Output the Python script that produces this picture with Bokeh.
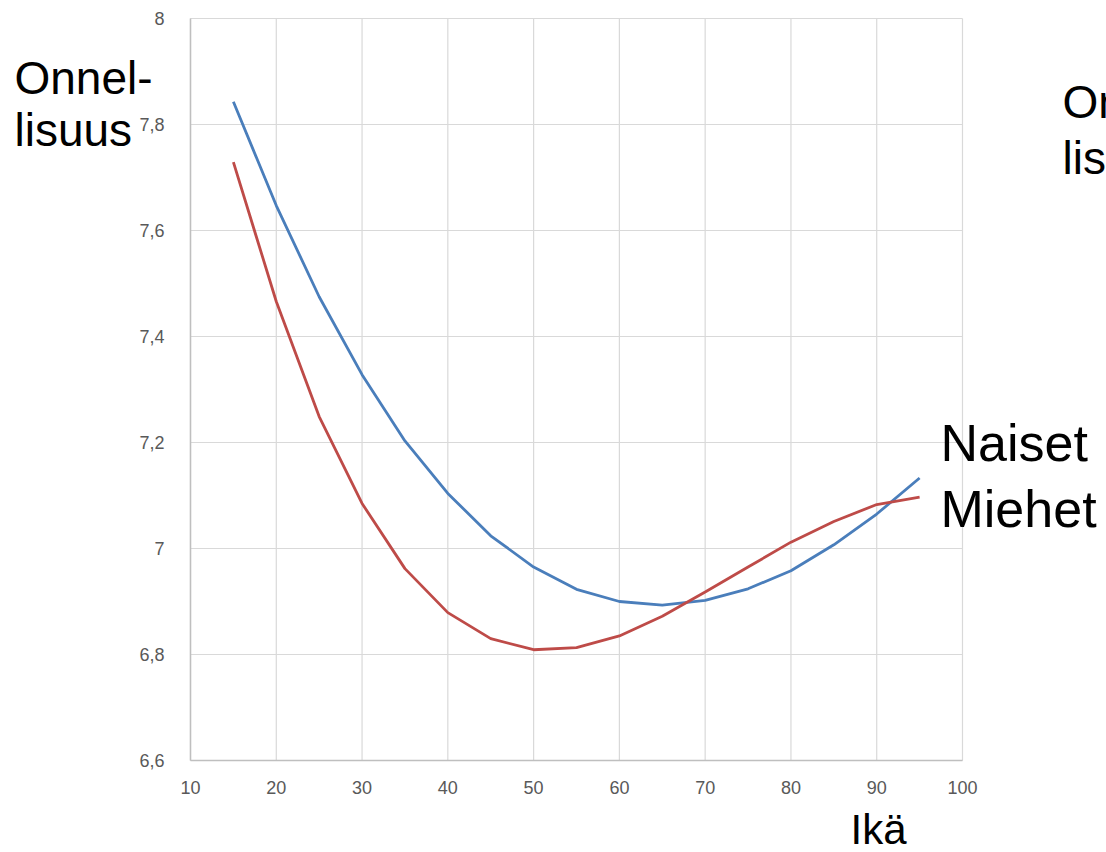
from bokeh.plotting import figure
from bokeh.models import Range1d, FixedTicker, CustomJSTickFormatter, Label
from bokeh.embed import file_html
from bokeh.resources import INLINE

ages = [15, 20, 25, 30, 35, 40, 45, 50, 55, 60, 65, 70, 75, 80, 85, 90, 95]
naiset = [7.843, 7.647, 7.475, 7.328, 7.203, 7.104, 7.024, 6.965, 6.923, 6.900,
          6.893, 6.902, 6.924, 6.958, 7.007, 7.065, 7.133]
miehet = [7.729, 7.466, 7.249, 7.085, 6.962, 6.879, 6.830, 6.809, 6.813, 6.835,
          6.872, 6.918, 6.965, 7.012, 7.051, 7.083, 7.097]
x_ticks = [10, 20, 30, 40, 50, 60, 70, 80, 90, 100]
y_ticks = [6.6, 6.8, 7.0, 7.2, 7.4, 7.6, 7.8, 8.0]

W, H = 1106, 852
# plot-area margins in pixels
ML, MR, MT, MB = 190, 144, 18, 92
xmin, xmax = x_ticks[0], x_ticks[-1]
ymin, ymax = y_ticks[0], y_ticks[-1]
kx = (W - ML - MR) / (xmax - xmin)
ky = (H - MT - MB) / (ymax - ymin)

p = figure(width=W, height=H, output_backend="svg", toolbar_location=None,
           x_range=Range1d(xmin - ML / kx, xmax + MR / kx),
           y_range=Range1d(ymin - MB / ky, ymax + MT / ky),
           min_border=0)
p.outline_line_color = None
p.background_fill_color = "white"
p.border_fill_color = "white"
p.xgrid.visible = False
p.ygrid.visible = False

# grid lines limited to the plot area
p.segment(x0=x_ticks, x1=x_ticks, y0=[ymin] * len(x_ticks), y1=[ymax] * len(x_ticks),
          line_color="#d9d9d9", line_width=1.2)
p.segment(x0=[xmin] * len(y_ticks), x1=[xmax] * len(y_ticks), y0=y_ticks, y1=y_ticks,
          line_color="#d9d9d9", line_width=1.2)

p.xaxis.fixed_location = ymin
p.yaxis.fixed_location = xmin
p.xaxis.bounds = (xmin, xmax)
p.yaxis.bounds = (ymin, ymax)
for ax in (p.xaxis[0], p.yaxis[0]):
    ax.axis_line_color = "#bfbfbf"
    ax.axis_line_width = 1.5
    ax.major_tick_line_color = None
    ax.minor_tick_line_color = None
    ax.major_label_text_color = "#595959"
    ax.major_label_text_font = "Liberation Sans"
    ax.major_label_text_font_size = "18px"

p.xaxis.ticker = FixedTicker(ticks=x_ticks)
p.yaxis.ticker = FixedTicker(ticks=y_ticks)
p.yaxis.formatter = CustomJSTickFormatter(
    code="var s = (Math.round(tick*10)/10).toString(); return s.replace('.', ',');")
p.xaxis.major_label_standoff = 14
p.yaxis.major_label_standoff = 20

p.line(ages, naiset, line_color="#4A7EBB", line_width=2.8)
p.line(ages, miehet, line_color="#BE4B48", line_width=2.8)

def lab(px, py, t, size):
    # px, py: left / baseline of the text in canvas pixels (from top-left)
    py = py - 0.37 * size  # compensate renderer baseline offset
    p.add_layout(Label(x=px, y=H - py, x_units="screen", y_units="screen", text=t,
                       text_font="Liberation Sans", text_font_size=f"{size}px",
                       text_color="black", text_baseline="alphabetic",
                       text_align="left"))

lab(14, 95, "Onnel-", 46)
lab(14, 147, "lisuus", 46)
lab(1062, 119, "Onnel-", 46)
lab(1062, 175, "lisuus", 46)
lab(940, 462, "Naiset", 52)
lab(940, 528, "Miehet", 52)
lab(850, 845, "Ikä", 42)

open("out.html", "w").write(file_html(p, INLINE))
